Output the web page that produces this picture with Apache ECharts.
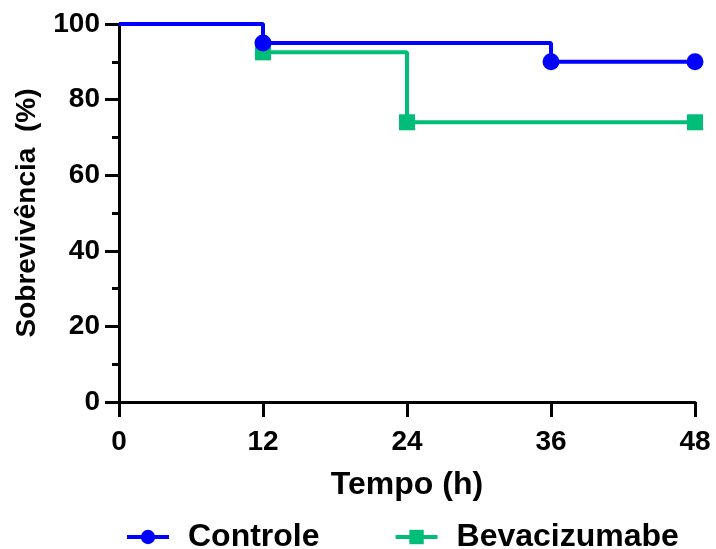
<!DOCTYPE html>
<html>
<head>
<meta charset="utf-8">
<script src="https://cdn.jsdelivr.net/npm/echarts@6/dist/echarts.min.js"></script>
<style>
  html, body { margin: 0; padding: 0; background: #fff; }
  #chart { width: 716px; height: 549px; }
</style>
</head>
<body>
<div id="chart"></div>
<script>
var tempos = [0, 12, 24, 36, 48];
var controleTempo = [0, 12, 36, 48];
var controleSobrev = [100, 95, 90, 90];
var bevaTempo = [0, 12, 24, 48];
var bevaSobrev = [100, 92.5, 74, 74];

var font = "'Liberation Sans', Arial, sans-serif";

function toData(xs, ys) {
    return xs.map(function(x, i) {
        var item = { value: [x, ys[i]] };
        // no marker at time 0
        if (i === 0) item.symbol = 'none';
        return item;
    });
}

var chart = echarts.init(document.getElementById('chart'));
var option = {
    animation: false,
    textStyle: { fontFamily: font },
    grid: { left: 119, right: 21, top: 24, bottom: 147, outerBoundsMode: 'none', containLabel: false },
    legend: {
        top: 521,
        left: 125,
        padding: 0,
        itemWidth: 42,
        itemHeight: 18,
        itemGap: 74,
        lineStyle: { width: 4 },
        textStyle: { fontSize: 32, fontWeight: 'bold', color: '#000', fontFamily: font, padding: [0, 0, 0, 14] },
        data: ['Controle', 'Bevacizumabe']
    },
    xAxis: {
        type: 'value',
        min: 0,
        max: 48,
        interval: 12,
        name: 'Tempo (h)',
        nameLocation: 'middle',
        nameGap: 67,
        nameTextStyle: { fontSize: 32, fontWeight: 'bold', color: '#000', fontFamily: font },
        splitLine: { show: false },
        axisLine: { lineStyle: { color: '#000', width: 3 } },
        axisTick: { length: 15, lineStyle: { color: '#000', width: 3 } },
        axisLabel: { margin: 26, fontSize: 28, fontWeight: 'bold', color: '#000', fontFamily: font }
    },
    yAxis: {
        type: 'value',
        min: 0,
        max: 100,
        interval: 20,
        name: 'Sobrevivência  (%)',
        nameLocation: 'middle',
        nameGap: 78,
        nameTextStyle: { fontSize: 28, fontWeight: 'bold', color: '#000', fontFamily: font },
        splitLine: { show: false },
        axisLine: { show: true, lineStyle: { color: '#000', width: 3 } },
        axisTick: { show: true, length: 14, lineStyle: { color: '#000', width: 3 } },
        minorTick: { show: true, splitNumber: 2, length: 7, lineStyle: { color: '#000', width: 3 } },
        axisLabel: { margin: 19, fontSize: 28, fontWeight: 'bold', color: '#000', fontFamily: font }
    },
    series: [
        {
            name: 'Bevacizumabe',
            type: 'line',
            step: 'end',
            symbol: 'rect',
            symbolSize: 16,
            z: 2,
            itemStyle: { color: '#00BE78' },
            lineStyle: { color: '#00BE78', width: 4 },
            data: toData(bevaTempo, bevaSobrev)
        },
        {
            name: 'Controle',
            type: 'line',
            step: 'end',
            symbol: 'circle',
            symbolSize: 17,
            z: 3,
            itemStyle: { color: '#0000FF' },
            lineStyle: { color: '#0000FF', width: 4 },
            data: toData(controleTempo, controleSobrev)
        }
    ]
};
chart.setOption(option);
</script>
</body>
</html>
